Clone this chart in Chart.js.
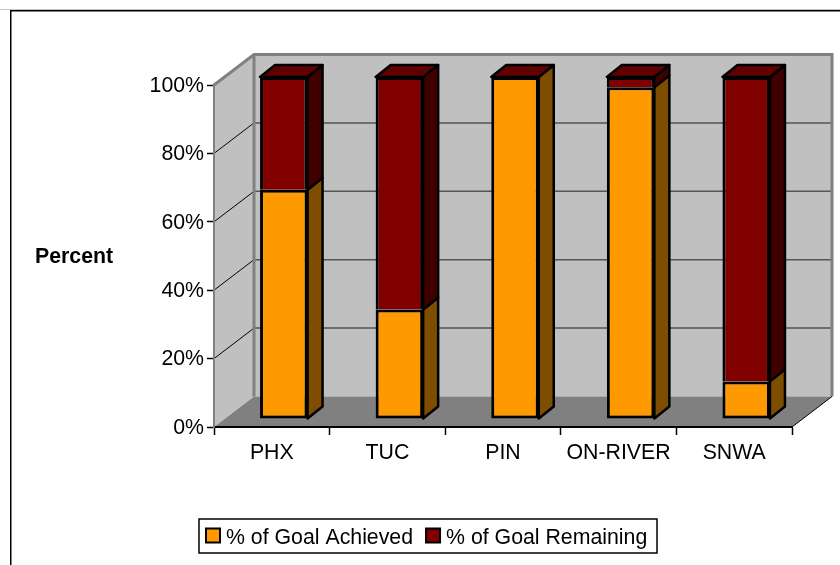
<!DOCTYPE html>
<html>
<head>
<meta charset="utf-8">
<style>
  html, body { margin: 0; padding: 0; background: #fff; }
  canvas { display: block; }
</style>
<script src="https://cdn.jsdelivr.net/npm/chart.js@4/dist/chart.umd.js"></script>
</head>
<body>
<canvas id="chart" width="840" height="565"></canvas>
<script>
const categories = ["PHX", "TUC", "PIN", "ON-RIVER", "SNWA"]
const achieved = [67, 32, 100, 97, 11]
const remaining = [33, 68, 0, 3, 89]
const seriesNames = ["% of Goal Achieved", "% of Goal Remaining"]
const yTicks = [0, 20, 40, 60, 80, 100]

const FONT = '"Liberation Sans", Arial, sans-serif'
const FONT_SIZE = 21.3
// fake 3d: wall depth, where the bars stand on the floor, how deep the bars are
const WALL = { x: 40, y: -30.5 }
const BAR_SHIFT = { x: 12, y: -8 }
const BAR_DEPTH = { x: 15, y: -12 }
const SIDE_COLORS = ["#7f4d00", "#400000"]
const TOP_COLOR = "#600000"

function poly(ctx, pts, fill, stroke, lw) {
  ctx.beginPath()
  pts.forEach((p, i) => i ? ctx.lineTo(p[0], p[1]) : ctx.moveTo(p[0], p[1]))
  ctx.closePath()
  if (fill) { ctx.fillStyle = fill; ctx.fill() }
  if (stroke) { ctx.strokeStyle = stroke; ctx.lineWidth = lw; ctx.lineJoin = "round"; ctx.stroke() }
}

const frame3d = {
  id: "frame3d",
  beforeDraw(chart) {
    const { ctx, chartArea: a, scales } = chart
    const wx = WALL.x, wy = WALL.y

    ctx.save()
    // sheet edges
    ctx.fillStyle = "#c4c4c4"
    ctx.fillRect(0, 9, 840, 1)
    ctx.fillStyle = "#000"
    ctx.fillRect(10, 10, 830, 1.5)
    ctx.fillRect(10, 10, 1.5, 555)

    poly(ctx, [[a.left, a.top], [a.left + wx, a.top + wy], [a.left + wx, a.bottom + wy], [a.left, a.bottom]], "#c0c0c0")
    poly(ctx, [[a.left + wx, a.top + wy], [a.right + wx, a.top + wy], [a.right + wx, a.bottom + wy], [a.left + wx, a.bottom + wy]], "#c0c0c0")
    poly(ctx, [[a.left, a.bottom], [a.right, a.bottom], [a.right + wx, a.bottom + wy], [a.left + wx, a.bottom + wy]], "#808080")

    yTicks.slice(1, -1).forEach(v => {
      const y = scales.y.getPixelForValue(v)
      ctx.strokeStyle = "#000"
      ctx.lineWidth = 1
      ctx.beginPath()
      ctx.moveTo(a.left, y)
      ctx.lineTo(a.left + wx, y + wy)
      ctx.stroke()
      ctx.strokeStyle = "#555"
      ctx.lineWidth = 1.5
      ctx.beginPath()
      ctx.moveTo(a.left + wx, y + wy)
      ctx.lineTo(a.right + wx, y + wy)
      ctx.stroke()
    })

    // gray wall outlines
    ctx.strokeStyle = "#808080"
    ctx.lineWidth = 3
    ctx.lineJoin = "miter"
    ctx.beginPath()
    ctx.moveTo(a.left, a.top)
    ctx.lineTo(a.left + wx, a.top + wy)
    ctx.lineTo(a.right + wx, a.top + wy)
    ctx.lineTo(a.right + wx, a.bottom + wy)
    ctx.moveTo(a.left + wx, a.top + wy)
    ctx.lineTo(a.left + wx, a.bottom + wy)
    ctx.stroke()

    ctx.strokeStyle = "#000"
    ctx.lineWidth = 1
    ctx.beginPath()
    ctx.moveTo(a.right, a.bottom)
    ctx.lineTo(a.right + wx, a.bottom + wy)
    ctx.stroke()
    ctx.restore()
  },
  beforeDatasetsDraw(chart) {
    const { ctx } = chart
    ctx.save()
    ctx.translate(BAR_SHIFT.x, BAR_SHIFT.y)
    const dx = BAR_DEPTH.x, dy = BAR_DEPTH.y

    // sides and tops of the boxes, the fronts are the real bars
    chart.data.datasets.forEach((ds, i) => {
      chart.getDatasetMeta(i).data.forEach(bar => {
        const right = bar.x + bar.width / 2
        if (bar.base - bar.y > 0.5) {
          poly(ctx, [[right, bar.base], [right + dx, bar.base + dy], [right + dx, bar.y + dy], [right, bar.y]], SIDE_COLORS[i], "#000", 2.5)
        }
      })
    })
    const last = chart.data.datasets.length - 1
    chart.getDatasetMeta(last).data.forEach(bar => {
      const l = bar.x - bar.width / 2, r = bar.x + bar.width / 2
      poly(ctx, [[l, bar.y], [r, bar.y], [r + dx, bar.y + dy], [l + dx, bar.y + dy]], TOP_COLOR, "#000", 2.5)
    })
  },
  afterDatasetsDraw(chart) {
    chart.ctx.restore()
  },
  afterDraw(chart) {
    const { ctx } = chart
    ctx.save()
    ctx.fillStyle = "#000"
    ctx.textBaseline = "middle"
    ctx.textAlign = "left"

    ctx.font = `bold ${FONT_SIZE}px ${FONT}`
    ctx.fillText("Percent", 35, 257)

    // legend box
    ctx.font = `${FONT_SIZE}px ${FONT}`
    ctx.strokeStyle = "#000"
    ctx.lineWidth = 1.5
    ctx.strokeRect(199, 519, 458, 34)
    let x = 206
    chart.data.datasets.forEach(ds => {
      ctx.fillStyle = ds.backgroundColor
      ctx.fillRect(x, 528.5, 14, 14)
      ctx.strokeStyle = "#000"
      ctx.lineWidth = 2
      ctx.strokeRect(x, 528.5, 14, 14)
      ctx.fillStyle = "#000"
      ctx.fillText(ds.label, x + 20, 538)
      x += 20 + ctx.measureText(ds.label).width + 13
    })
    ctx.restore()
  }
}

new Chart(document.getElementById("chart"), {
  type: "bar",
  data: {
    labels: categories,
    datasets: [
      { label: seriesNames[0], data: achieved, backgroundColor: "#ff9900", borderSkipped: false },
      { label: seriesNames[1], data: remaining, backgroundColor: "#800000", borderSkipped: "bottom" }
    ]
  },
  options: {
    responsive: false,
    animation: false,
    devicePixelRatio: 1,
    layout: { padding: { top: 85, right: 48, bottom: 0, left: 0 } },
    font: { family: FONT, size: FONT_SIZE },
    datasets: {
      bar: {
        borderColor: "#000",
        borderWidth: 3,
        categoryPercentage: 0.411,
        barPercentage: 1,
        clip: false
      }
    },
    plugins: {
      legend: { display: false },
      title: { display: false },
      tooltip: { enabled: false }
    },
    scales: {
      x: {
        stacked: true,
        afterFit: s => { s.height = 138 },
        grid: { drawOnChartArea: false, tickLength: 8, tickColor: "#000", tickWidth: 1.5 },
        border: { color: "#000", width: 2 },
        ticks: {
          color: "#000",
          padding: 5,
          maxRotation: 0,
          autoSkip: false,
          font: { family: FONT, size: FONT_SIZE }
        }
      },
      y: {
        stacked: true,
        min: 0,
        max: 100,
        afterFit: s => { s.width = 214 },
        afterBuildTicks: s => { s.ticks = yTicks.map(v => ({ value: v })) },
        grid: { drawOnChartArea: false, tickLength: 7, tickColor: "#000", tickWidth: 1.5 },
        border: { color: "#808080", width: 2 },
        ticks: {
          color: "#000",
          padding: 3,
          labelOffset: 1,
          font: { family: FONT, size: FONT_SIZE },
          callback: v => v + "%"
        }
      }
    }
  },
  plugins: [frame3d]
})
</script>
</body>
</html>
